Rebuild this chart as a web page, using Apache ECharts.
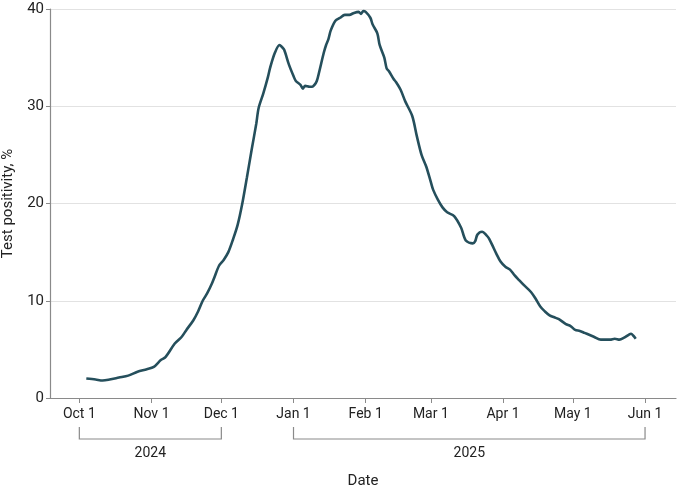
<!DOCTYPE html>
<html>
<head>
<meta charset="utf-8">
<script src="https://cdn.jsdelivr.net/npm/echarts@6/dist/echarts.min.js"></script>
<style>
  html, body { margin: 0; padding: 0; background: #fff; }
  #main { width: 680px; height: 488px; }
</style>
</head>
<body>
<div id="main"></div>
<script>
// dates of the 7-day series
var dates = [
    '2024-10-04', '2024-10-08', '2024-10-11', '2024-10-14', '2024-10-18', '2024-10-22', '2024-10-26', '2024-10-30',
    '2024-11-02', '2024-11-05', '2024-11-07', '2024-11-11', '2024-11-14', '2024-11-16', '2024-11-19', '2024-11-21',
    '2024-11-23', '2024-11-25', '2024-11-27', '2024-11-28', '2024-11-30',
    '2024-12-02', '2024-12-04', '2024-12-06', '2024-12-08', '2024-12-10', '2024-12-12', '2024-12-14', '2024-12-16',
    '2024-12-17', '2024-12-19', '2024-12-21', '2024-12-22', '2024-12-24', '2024-12-26', '2024-12-27', '2024-12-28',
    '2024-12-30',
    '2025-01-01', '2025-01-02', '2025-01-04', '2025-01-05', '2025-01-06', '2025-01-08', '2025-01-09', '2025-01-10',
    '2025-01-11', '2025-01-12', '2025-01-14', '2025-01-15', '2025-01-16', '2025-01-17', '2025-01-19', '2025-01-21',
    '2025-01-23', '2025-01-25', '2025-01-27', '2025-01-29', '2025-01-30', '2025-01-31',
    '2025-02-01', '2025-02-03', '2025-02-04', '2025-02-06', '2025-02-07', '2025-02-09', '2025-02-10', '2025-02-11',
    '2025-02-13', '2025-02-14', '2025-02-16', '2025-02-18', '2025-02-21', '2025-02-23', '2025-02-25', '2025-02-27',
    '2025-03-01', '2025-03-02', '2025-03-04', '2025-03-06', '2025-03-08', '2025-03-11', '2025-03-14', '2025-03-16',
    '2025-03-19', '2025-03-20', '2025-03-21', '2025-03-23', '2025-03-25', '2025-03-26', '2025-03-28', '2025-03-29',
    '2025-03-31',
    '2025-04-02', '2025-04-04', '2025-04-06', '2025-04-08', '2025-04-10', '2025-04-13', '2025-04-15', '2025-04-17',
    '2025-04-19', '2025-04-21', '2025-04-23', '2025-04-25', '2025-04-28', '2025-04-30',
    '2025-05-02', '2025-05-04', '2025-05-06', '2025-05-08', '2025-05-10', '2025-05-13', '2025-05-15', '2025-05-17',
    '2025-05-19', '2025-05-21', '2025-05-23', '2025-05-25', '2025-05-26', '2025-05-27', '2025-05-28'
];
var positivity = [
    2.0, 1.9, 1.8, 1.9, 2.1, 2.3, 2.7, 2.95,
    3.2, 3.9, 4.2, 5.6, 6.3, 7.0, 8.0, 8.9,
    10.0, 10.8, 11.8, 12.4, 13.6,
    14.2, 15.0, 16.3, 17.8, 20.0, 22.7, 25.5, 28.2,
    29.8, 31.3, 33.0, 34.0, 35.5, 36.3, 36.1, 35.8,
    34.3,
    33.1, 32.6, 32.2, 31.8, 32.1, 32.0, 32.0, 32.2,
    32.6, 33.5, 35.5, 36.3, 36.9, 37.8, 38.8, 39.1,
    39.4, 39.4, 39.6, 39.7, 39.5, 39.8,
    39.7, 39.1, 38.4, 37.5, 36.3, 35.0, 33.9, 33.6,
    32.8, 32.5, 31.7, 30.5, 29.0, 26.9, 25.0, 23.8,
    22.2, 21.4, 20.4, 19.6, 19.1, 18.7, 17.5, 16.2,
    15.9, 16.1, 16.8, 17.1, 16.7, 16.4, 15.4, 14.9,
    14.0,
    13.5, 13.2, 12.6, 12.1, 11.6, 10.9, 10.2, 9.4,
    8.9, 8.5, 8.3, 8.1, 7.6, 7.4,
    7.0, 6.9, 6.7, 6.5, 6.3, 6.0, 6.0, 6.0,
    6.1, 6.0, 6.2, 6.5, 6.6, 6.4, 6.1
];
// month ticks on the x axis
var tickMonths = [[2024, 9], [2024, 10], [2024, 11], [2025, 0], [2025, 1], [2025, 2], [2025, 3], [2025, 4], [2025, 5]];
var monthNames = ['Jan', 'Feb', 'Mar', 'Apr', 'May', 'Jun', 'Jul', 'Aug', 'Sep', 'Oct', 'Nov', 'Dec'];
// year brackets: label, first month, last month
var yearBrackets = [
    ['2024', [2024, 9], [2024, 11]],
    ['2025', [2025, 0], [2025, 5]]
];

var DAY = 24 * 3600 * 1000;
var fontFamily = 'Roboto, "Noto Sans", sans-serif';
var axisGray = '#8a8a8a';

function monthStart(ym) {
    return new Date(ym[0], ym[1], 1).getTime();
}
function parseDay(s) {
    var p = s.split('-');
    return new Date(+p[0], +p[1] - 1, +p[2]).getTime();
}

var tickValues = tickMonths.map(monthStart);
var seriesData = dates.map(function(d, i) {
    return [parseDay(d), positivity[i]];
});

var dom = document.getElementById('main');
var myChart = echarts.init(dom);

var option = {
    animation: false,
    textStyle: {
        fontFamily: fontFamily
    },
    grid: {
        left: 50,
        right: 4,
        top: 9,
        bottom: 90,
        containLabel: false,
        outerBoundsMode: 'none'
    },
    xAxis: {
        type: 'value',
        min: tickValues[0] - 12.6 * DAY,
        max: tickValues[tickValues.length - 1] + 13.3 * DAY,
        name: 'Date',
        nameLocation: 'middle',
        nameGap: 76,
        nameTextStyle: {
            fontFamily: fontFamily,
            fontSize: 15,
            color: '#222'
        },
        axisLine: {
            lineStyle: { color: axisGray, width: 1.2 }
        },
        axisTick: {
            show: true,
            customValues: tickValues,
            length: 5,
            lineStyle: { color: axisGray }
        },
        axisLabel: {
            customValues: tickValues,
            margin: 9,
            fontFamily: fontFamily,
            fontSize: 14,
            color: '#222',
            formatter: function(val) {
                var d = new Date(val);
                return monthNames[d.getMonth()] + ' ' + d.getDate();
            }
        },
        splitLine: { show: false }
    },
    yAxis: {
        type: 'value',
        min: 0,
        max: 40,
        interval: 10,
        name: 'Test positivity, %',
        nameLocation: 'middle',
        nameGap: 34,
        nameTextStyle: {
            fontFamily: fontFamily,
            fontSize: 15,
            color: '#222'
        },
        axisLine: {
            show: true,
            lineStyle: { color: axisGray, width: 1.2 }
        },
        axisTick: {
            show: true,
            length: 4,
            lineStyle: { color: axisGray }
        },
        axisLabel: {
            margin: 6,
            fontFamily: fontFamily,
            fontSize: 15,
            color: '#222'
        },
        splitLine: {
            lineStyle: { color: '#e2e2e2', width: 1.2 }
        }
    },
    series: [{
        type: 'line',
        data: seriesData,
        showSymbol: false,
        smooth: 0.3,
        lineStyle: {
            color: '#254f5c',
            width: 2.6
        }
    }]
};

myChart.setOption(option, true);

// year brackets under the month labels, placed through the x scale
function drawBrackets() {
    var top = 427, bar = 439;
    var elements = [];
    yearBrackets.forEach(function(b) {
        var x1 = myChart.convertToPixel({ xAxisIndex: 0 }, monthStart(b[1]));
        var x2 = myChart.convertToPixel({ xAxisIndex: 0 }, monthStart(b[2]));
        elements.push({
            type: 'polyline',
            silent: true,
            shape: { points: [[x1, top], [x1, bar], [x2, bar], [x2, top]] },
            style: { stroke: axisGray, lineWidth: 1.2, fill: null }
        });
        elements.push({
            type: 'text',
            silent: true,
            x: (x1 + x2) / 2,
            y: 453,
            style: {
                text: b[0],
                fontFamily: fontFamily,
                fontSize: 14,
                fill: '#222',
                align: 'center',
                verticalAlign: 'middle'
            }
        });
    });
    myChart.setOption({ graphic: { elements: elements } });
}
drawBrackets();

window.onresize = function() {
    myChart.resize();
    drawBrackets();
};
</script>
</body>
</html>
